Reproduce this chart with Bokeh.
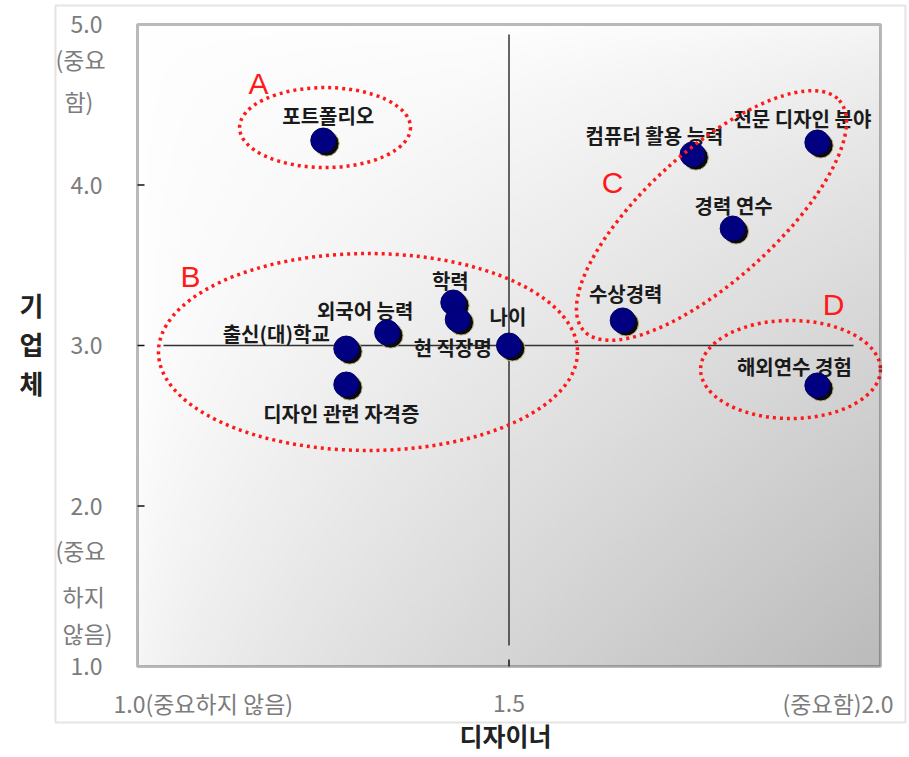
import numpy as np
from bokeh.plotting import figure
from bokeh.models import Range1d, Label, BoxAnnotation, ColumnDataSource
from bokeh.transform import dodge
from bokeh.core.properties import value
from bokeh.embed import file_html
from bokeh.resources import INLINE

# ---------------- data ----------------
items = ["포트폴리오", "컴퓨터 활용 능력", "전문 디자인 분야", "경력 연수", "수상경력",
         "해외연수 경험", "나이", "학력", "현 직장명", "외국어 능력", "출신(대)학교",
         "디자인 관련 자격증"]
designer = [1.250, 1.747, 1.915, 1.801, 1.653, 1.915, 1.500, 1.425, 1.431, 1.336, 1.281, 1.281]
company = [4.277, 4.190, 4.265, 3.729, 3.156, 2.751, 3.000, 3.268, 3.162, 3.081, 2.981, 2.757]

# label offsets (screen px) relative to each point
label_dx = [5, -38, -15, 1, 3, -23, -1, -3, -5, -22, -70, -5]
label_dy = [-25, -19, -24, -23, -27, -19, -29, -22, 28, -22, -15, 29]

# groups (ellipses)
group_names = ["A", "B", "C", "D"]
group_x = [1.2524, 1.3102, 1.7725, 1.8789]
group_y = [4.358, 2.9595, 3.810, 2.8505]
group_w = [0.230, 0.564, 0.463, 0.242]
group_h = [0.498, 1.227, 0.810, 0.611]
group_angle = [0.0, 0.0, 0.733, 0.0]
group_lx = [1.1629, 1.0713, 1.6393, 1.9367]
group_ly = [4.632, 3.430, 4.016, 3.255]

x_mid, y_mid = 1.5, 3.0
y_ticks = [5, 4, 3, 2, 1]
y_tick_labels = ["5.0", "4.0", "3.0", "2.0", "1.0"]
y_inner_ticks = [2, 3, 4]
x_tick_labels = ["1.0(중요하지 않음)", "1.5", "(중요함)2.0"]
y_note_text = ["(중요", "함)", "(중요", "하지", "않음)"]
y_note_x = [0.8896, 0.9017, 0.8896, 0.8991, 0.8991]
y_note_y = [4.788, 4.526, 1.723, 1.442, 1.206]

KR = "Noto Sans CJK KR"
GRAY = "#7c7c7c"

# frame spans the whole canvas; axes are drawn from the lists above
p = figure(width=907, height=755,
           x_range=Range1d(1 - 137 / 743, 1 + 770 / 743),
           y_range=Range1d(1 - 89 / 160.5, 5 + 24 / 160.5),
           output_backend="svg", toolbar_location=None, min_border=0)
p.xaxis.visible = False
p.yaxis.visible = False
p.grid.visible = False
p.outline_line_color = None
p.background_fill_color = "white"
p.border_fill_color = "white"

# gradient background of the plotting area
nx, ny = 200, 200
u = np.linspace(0, 1, nx)[None, :]
w = np.linspace(1, 0, ny)[:, None]
t = 0.5 * (u * w) ** 0.6 + 0.5 * np.clip((u + w - 0.5) / 1.5, 0, None) ** 1.3
v = (255 - 68 * t).astype(np.uint8)
img = np.empty((ny, nx), dtype=np.uint32)
view = img.view(dtype=np.uint8).reshape((ny, nx, 4))
view[..., 0] = v
view[..., 1] = v
view[..., 2] = v
view[..., 3] = 255
p.image_rgba(image=[img], x=1, y=1, dw=1, dh=4, level="image")

# outer light frame and inner black frame
p.add_layout(BoxAnnotation(left=0.8896, right=2.0336, top=5.1184, bottom=0.6511,
                           fill_alpha=0, line_color="#a6a6a6", line_width=2))
p.add_layout(BoxAnnotation(left=1, right=2, top=5, bottom=1,
                           fill_alpha=0, line_color="#1a1a1a", line_width=3))

# inward ticks
tick_dx = 7 / 743
tick_dy = 7 / 160.5
p.segment(x0=[1] * len(y_inner_ticks), x1=[1 + tick_dx] * len(y_inner_ticks),
          y0=y_inner_ticks, y1=y_inner_ticks, line_color="#111111", line_width=1.5)
p.segment(x0=[x_mid], x1=[x_mid], y0=[1], y1=[1 + tick_dy],
          line_color="#111111", line_width=1.5)

# tick labels
p.text(x=[1 - 35 / 743] * len(y_ticks), y=y_ticks, text=y_tick_labels,
       text_align="right", text_baseline="middle", text_font=value(KR),
       text_font_size="23px", text_color=GRAY)
p.text(x=y_note_x, y=y_note_y, text=y_note_text, text_align="left",
       text_baseline="middle", text_font=value(KR), text_font_size="23px", text_color=GRAY)
p.text(x=[0.9677, x_mid, 2.0175], y=[0.7695] * 3, text=x_tick_labels,
       text_align=["left", "center", "right"], text_baseline="middle",
       text_font=value(KR), text_font_size="23px", text_color=GRAY)

# crosshair
p.segment(x0=[x_mid, 1.035], y0=[1.131, y_mid], x1=[x_mid, 1.9637], y1=[4.938, y_mid],
          line_color="#333333", line_width=1.5)

# point labels
src = ColumnDataSource(dict(item=items, designer=designer, company=company,
                            dx=label_dx, dy=label_dy))
p.text(x="designer", y="company", text="item", x_offset="dx", y_offset="dy", source=src,
       text_font=value(KR), text_font_style="bold", text_font_size="20px",
       text_color="#1a1a1a", text_align="center", text_baseline="middle")

# points with shadow
p.scatter(x=dodge("designer", 0.0045), y=dodge("company", -0.019), source=src, size=25,
          fill_color="#0a0a0a", line_color="#b8b080", line_width=1)
p.scatter(x="designer", y="company", source=src, size=25,
          fill_color="#000080", line_color="#000066", line_width=1)

# group ellipses
gsrc = ColumnDataSource(dict(gx=group_x, gy=group_y, gw=group_w, gh=group_h, ga=group_angle))
p.ellipse(x="gx", y="gy", width="gw", height="gh", angle="ga", source=gsrc,
          fill_color=None, line_color="#ff1a1a", line_width=3.5, line_dash="3 4")
p.text(x=group_lx, y=group_ly, text=group_names, text_align="center",
       text_baseline="middle", text_font=value("Liberation Sans"),
       text_font_size="30px", text_color="#ff1a1a")

# axis titles
p.add_layout(Label(x=1.4953, y=0.5763, text="디자이너", text_align="center",
                   text_baseline="middle", text_font=KR, text_font_style="bold",
                   text_font_size="25px", text_color="#222222"))
p.add_layout(Label(x=0.8573, y=3.0125, text="기\n업\n체", text_align="center",
                   text_baseline="middle", text_font=KR, text_font_style="bold",
                   text_font_size="26px", text_color="#222222", text_line_height=1.05))

open("out.html", "w").write(file_html(p, INLINE))
